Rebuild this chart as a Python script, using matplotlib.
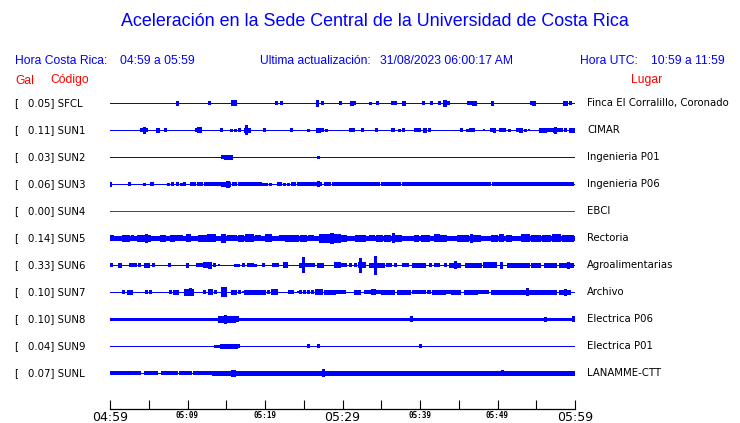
import matplotlib
matplotlib.use("Agg")
import matplotlib.pyplot as plt

# ---------------- data ----------------
codes = ["SFCL", "SUN1", "SUN2", "SUN3", "SUN4", "SUN5", "SUN6", "SUN7", "SUN8", "SUN9", "SUNL"]
gal = [0.05, 0.11, 0.03, 0.06, 0.00, 0.14, 0.33, 0.10, 0.10, 0.04, 0.07]
places = ["Finca El Corralillo, Coronado", "CIMAR", "Ingenieria P01", "Ingenieria P06", "EBCI",
          "Rectoria", "Agroalimentarias", "Archivo", "Electrica P06", "Electrica P01", "LANAMME-CTT"]
tick_minutes = list(range(0, 61, 5))
tick_labels = ["04:59", "", "05:09", "", "05:19", "", "05:29", "", "05:39", "", "05:49", "", "05:59"]

# trace bursts: (start minute, end minute, relative amplitude)
ev_sfcl = [(8.6,8.8,2),(12.8,12.9,1.5),(15.8,16.2,2.5),(21.4,21.5,1.5),(22.1,22.2,1.5),(26.7,26.9,3),
           (27.4,27.5,1.5),(29.7,29.8,1.5),(31.1,31.3,2),(31.5,31.6,1.5),(33.5,33.6,1),(34.4,34.6,1.5),
           (36.4,36.5,1.5),(36.8,36.9,1.5),(37.8,38.1,2),(40.4,40.5,1.5),(41.4,41.5,1.5),(42.5,42.6,1.5),
           (43.1,43.3,3),(43.6,43.7,1.5),(46.2,46.3,1.5),(46.5,46.6,1.5),(46.8,47.2,2),(49.3,49.4,2),
           (54.3,54.4,1.5),(54.6,54.8,2),(58.6,59.0,2),(59.4,59.5,1.5)]
ev_sun1 = [(4.0,4.1,1.5),(4.4,4.5,3),(4.7,4.8,1.5),(6.0,6.3,2),(7.1,7.2,1.5),(11.1,11.2,1.5),(11.4,11.7,2.5),
           (14.3,14.4,1.5),(15.6,15.7,1),(16.1,16.2,1),(16.6,16.7,1.5),(17.4,17.5,2),(17.6,17.7,5),(17.9,18.0,2),
           (19.9,20.0,1.5),(23.3,23.4,1.5),(25.5,25.6,1),(26.7,27.1,2),(27.3,27.4,1.5),(27.9,28.0,1),
           (31.0,31.1,1.5),(31.3,31.4,1.5),(32.5,32.6,1.5),(33.1,33.2,1),(34.3,34.4,1.5),(36.4,36.7,1.5),
           (37.3,37.4,1),(37.8,37.9,1.5),(39.4,39.5,1.5),(39.7,39.8,1.5),(39.9,40.0,1.5),(40.5,40.8,2),
           (41.2,41.3,1.5),(45.3,45.4,1.5),(46.1,46.2,1),(46.4,46.5,1.5),(46.9,47.0,1.5),(48.2,48.3,1.5),
           (49.1,49.3,1.5),(49.5,49.7,2),(50.3,50.4,1.5),(50.6,50.7,1.5),(50.9,51.0,1.5),(51.5,51.6,1),
           (52.5,52.6,1.5),(52.9,53.2,2),(53.6,53.7,1),(54.0,54.1,1.5),(55.5,56.2,2),(56.5,56.6,1.5),
           (56.8,56.9,1.5),(57.0,57.1,1.5),(57.3,57.4,2),(57.4,57.5,3),(57.8,57.9,1.5),(58.2,58.3,1.5),
           (58.7,58.8,1.5),(59.3,60.0,2)]
ev_sun2 = [(14.5,14.6,1.5),(14.9,15.1,2),(15.2,15.7,2),(26.9,27.0,1)]
ev_sun3 = [(0,0.1,2),(2.4,2.5,1.5),(4.4,4.5,1),(5.3,5.5,1.5),(7.5,7.6,1),(8.0,8.1,1.5),(8.6,8.7,1.5),
           (9.2,9.3,1),(9.6,9.7,1.5),(10.4,10.5,1.5),(10.9,11.0,1.5),(11.4,11.5,1.5),(11.8,11.9,1.5),
           (12.3,14.4,1.5),(14.5,15.5,2),(15.1,15.3,3),(15.9,16.3,1.5),(16.6,16.7,1.5),(17.0,17.3,1.5),
           (17.6,18.3,1.5),(18.6,19.5,1.5),(19.8,19.9,1),(20.1,20.2,1),(20.7,20.8,1),(21.1,21.2,1),
           (21.7,22.1,1.5),(22.4,22.5,1),(23.0,23.1,1),(23.5,23.9,1.5),(24.3,25.6,1.5),(25.8,26.6,1.5),
           (26.8,26.9,2.5),(27.1,27.2,1.5),(27.8,28.4,1.5),(28.8,29.0,1.5),(29.2,29.7,1.5),
           (29.7,32.0,1.5),(32.3,33.1,1.5),(33.3,34.7,1.5),(35.1,36.6,1.5),(36.8,37.4,1.5),(37.8,40.4,1.5),
           (40.6,40.9,1.5),(41.2,41.9,1.5),(42.2,43.0,1.5),(43.2,43.8,1.5),(44.0,45.9,1.5),(46.2,47.2,1.5),
           (47.5,47.7,1.5),(48.0,49.0,1.5),(49.4,52.3,1.5),(52.5,54.4,1.5),(54.7,55.5,1.5),(55.8,56.8,1.5),
           (57.0,57.4,1.5),(57.6,59.8,1.5)]
ev_sun4 = []
ev_sun5 = [(0,0.35,2.5),(1.7,2.4,3.5),(2.8,2.9,2.5),(3.65,5.2,3),(4.6,4.8,4.5),(6.0,6.1,2.5),(6.6,7.1,3),
           (7.9,8.3,3),(8.5,9.25,2.5),(9.9,10.3,4),(11.5,12.5,3.5),(12.7,13.5,4),(14.4,14.8,4.5),
           (15.2,16.3,2.5),(16.7,17.2,3.5),(17.6,18.5,4),(18.9,19.35,2.5),(20.1,20.8,4),(21.9,22.4,2.5),
           (22.7,23.2,3),(23.4,24.3,3),(24.6,25.3,3),(25.7,26.2,2.5),(27.1,29.7,4.5),(28.5,28.8,5.5),
           (29.7,30.5,3.5),(31.8,32.9,3),(33.5,34.0,2.5),(34.4,35.1,3),(35.5,36.1,3.5),(36.5,36.6,5),
           (36.8,37.6,3),(39.35,39.8,3.5),(40.2,41.1,3),(41.9,42.4,4),(42.6,43.4,3),(44.9,46.2,3),
           (46.6,46.7,4.5),(46.9,47.7,3),(49.25,49.9,3.5),(50.3,50.75,4),(51.2,51.8,3),(53.1,54.0,4),
           (54.4,55.5,3),(55.9,56.8,3.5),(57.2,58.1,4),(58.5,59.8,3)]
ev_sun6 = [(0.1,0.2,1.5),(1.2,1.4,2),(2.6,2.7,1.5),(2.9,3.0,1.5),(3.2,3.3,1.5),(3.8,3.9,1.5),(4.55,5.0,2),
           (5.6,5.7,1.5),(7.65,7.75,1.5),(9.95,10.1,2),(11.25,11.6,1.5),(11.8,11.9,1.5),(12.1,12.7,2.5),
           (12.8,13.05,3),(13.4,13.5,1.5),(14.0,14.1,1.5),(16.1,16.2,1),(16.5,16.6,1),(17.2,17.3,1.5),
           (17.8,18.4,1.5),(18.7,18.8,1),(19.8,19.9,1.5),(21.0,21.7,1.5),(22.5,22.9,2.5),(24.5,25.0,2),
           (24.85,24.95,9),(25.3,25.6,1.5),(25.8,26.3,1.5),(26.9,27.45,2),(29.0,29.7,2.5),
           (29.7,30.5,1.5),(31.0,31.1,1.5),(31.6,31.7,1.5),(32.1,32.9,2.5),(32.2,32.35,8),(33.6,33.95,2),
           (34.2,34.35,11),(34.4,35.3,2),(35.7,36.3,1.5),(36.8,36.9,1.5),(37.8,38.5,1.5),(39.1,40.6,2),
           (41.3,41.4,1.5),(41.9,42.0,1.5),(42.3,42.4,1.5),(43.2,43.3,1.5),(43.9,45.2,2),(44.5,44.6,4),
           (45.9,47.9,2),(48.2,49.8,2.5),(50.5,50.6,3),(51.4,52.5,2),(52.7,53.8,2),(54.0,54.1,3.5),
           (54.4,55.5,2),(56.1,57.6,2),(58.1,59.8,2),(59.1,59.2,3)]
ev_sun7 = [(1.7,1.8,1.5),(2.3,2.9,2),(4.7,4.8,1.5),(5.2,5.3,1.5),(7.8,7.9,1.5),(8.2,8.8,2),(9.7,10.7,3),
           (10.3,10.4,4),(12.1,12.2,1.5),(12.8,13.1,2.5),(13.6,13.7,1.5),(14.4,15.0,5),(15.8,16.3,2),
           (16.7,16.8,1.5),(17.1,17.2,1.5),(17.4,18.7,2),(18.9,20.0,2),(20.4,20.5,1.5),(20.9,21.6,2.5),
           (23.1,23.65,1.5),(24.2,24.3,1.5),(24.5,24.6,1.5),(25.0,25.1,1.5),(25.6,25.7,1.5),(26.1,26.2,1.5),
           (26.6,27.4,2.5),(27.7,29.0,2),(29.3,29.7,1.5),
           (29.7,30.3,1.5),(31.6,32.3,2),(32.9,33.5,1.5),(33.8,34.2,2.5),(34.4,34.8,1.5),(35.1,36.6,2),
           (37.2,38.7,2),(39.1,39.5,1.5),(39.8,40.6,1.5),(41.0,41.3,1.5),(41.7,43.2,2),(43.4,43.9,1.5),
           (44.1,45.2,2),(45.8,47.3,2),(47.5,48.8,1.5),(49.25,52.0,2),(52.3,53.8,2),(53.8,53.9,4),
           (54.2,55.5,2),(55.7,57.6,2),(58.1,59.4,2),(58.7,58.8,3)]
ev_sun8 = [(14.1,16.1,3.5),(14.8,14.9,4.5),(16.4,16.5,2.5),(38.9,39.0,2.5),(56.1,56.2,2.2),(59.8,60.0,2.5)]
ev_sun9 = [(13.5,13.6,1),(13.9,14.0,1),(14.3,16.4,1.7),(16.5,16.6,1.5),(25.6,25.7,1.5),(26.9,27.0,1.5),
           (40.0,40.1,1.5)]
ev_sunl = [(0.1,0.65,1.5),(0.8,1.7,1.5),(1.9,2.6,1.5),(2.8,3.4,1.5),(3.6,3.9,1.5),(4.5,5.0,1.5),
           (5.3,6.0,1.5),(6.7,7.6,1.5),(7.9,8.6,1.5),(9.0,9.5,1.5),(9.7,10.5,1.5),(10.8,12.0,1.5),
           (12.2,13.1,1.5),(13.3,29.7,1.7),(15.7,16.1,3),(27.5,27.6,4),(29.7,60.0,1.7),(50.6,50.7,2.5)]
events = [ev_sfcl, ev_sun1, ev_sun2, ev_sun3, ev_sun4, ev_sun5, ev_sun6, ev_sun7, ev_sun8, ev_sun9, ev_sunl]

# ---------------- style ----------------
W, H = 740, 423
BLUE = "#0000ff"
RED = "#ff0000"
trace_colors = [BLUE] * 11
trace_colors[4] = RED
base_lw = [0.7, 0.7, 0.7, 0.7, 0.7, 2.2, 0.7, 0.7, 2.1, 0.7, 0.7]
ROW0, ROWSTEP = 103.3, 27.0   # pixel positions of rows
AMP_SCALE = 0.78 / 27.0       # relative amplitude -> row units

fig = plt.figure(figsize=(W / 100, H / 100), dpi=100)
fig.patch.set_facecolor("white")

def fx(x):
    return x / W

def fy(y):
    return 1 - y / H

ax_top, ax_bot = 90.0, 409.3
ax = fig.add_axes([fx(110), fy(ax_bot), 465 / W, (ax_bot - ax_top) / H])
ax.set_xlim(0, 60)
ax.set_ylim(-(ax_bot - ROW0) / ROWSTEP, -(ax_top - ROW0) / ROWSTEP)

for i, evs in enumerate(events):
    row = -i
    c = trace_colors[i]
    ax.hlines(row, 0, 60, color=c, lw=base_lw[i], capstyle="butt", antialiased=False)
    if evs:
        xs = [e[0] for e in evs]
        ws = [max(e[1] - e[0], 0.12) for e in evs]
        amps = [e[2] * AMP_SCALE for e in evs]
        ax.bar(xs, [2 * a for a in amps], width=ws, bottom=[row - a for a in amps],
               align="edge", color=c, edgecolor=c, linewidth=0.3, antialiased=False)

for s in ["top", "left", "right"]:
    ax.spines[s].set_visible(False)
ax.spines["bottom"].set_linewidth(0.9)
ax.set_yticks([])
ax.set_xticks(tick_minutes)
ax.set_xticklabels(tick_labels)
ax.tick_params(axis="x", direction="in", length=6.5, width=0.8, pad=1.5, color="black")
for lab, m in zip(ax.get_xticklabels(), tick_minutes):
    if m % 30 == 0:
        lab.set_fontfamily("DejaVu Sans")
        lab.set_fontsize(9)
    else:
        lab.set_fontfamily("DejaVu Sans Mono")
        lab.set_fontsize(5.5)
        lab.set_fontweight("bold")

# ---------------- texts ----------------
hdr = dict(family="Liberation Sans", fontsize=8.7, color=BLUE, va="center")
fig.text(fx(375), fy(22), "Aceleración en la Sede Central de la Universidad de Costa Rica",
         family="Liberation Sans", fontsize=12.9, color=BLUE, ha="center", va="center")
fig.text(fx(15), fy(61), "Hora Costa Rica:", **hdr)
fig.text(fx(120.5), fy(61), "04:59 a 05:59", **hdr)
fig.text(fx(260), fy(61), "Ultima actualización:", **hdr)
fig.text(fx(380), fy(61), "31/08/2023 06:00:17 AM", **hdr)
fig.text(fx(580.5), fy(61), "Hora UTC:", **hdr)
fig.text(fx(651), fy(61), "10:59 a 11:59", **hdr)
red = dict(family="Liberation Sans", fontsize=8.7, color=RED, va="center")
fig.text(fx(15), fy(80.5), "Gal", **red)
fig.text(fx(50), fy(80.5), "Código", **red)
fig.text(fx(631), fy(80.5), "Lugar", **red)

for i in range(len(codes)):
    yy = ROW0 + ROWSTEP * i
    fig.text(fx(14), fy(yy), "[", family="DejaVu Sans", fontsize=7.3, va="center")
    fig.text(fx(27.5), fy(yy), f"{gal[i]:.2f}] {codes[i]}", family="DejaVu Sans", fontsize=7.3, va="center")
    fig.text(fx(587), fy(yy), places[i], family="DejaVu Sans", fontsize=7.3, va="center")

fig.savefig("out.png", dpi=100, facecolor="white")
